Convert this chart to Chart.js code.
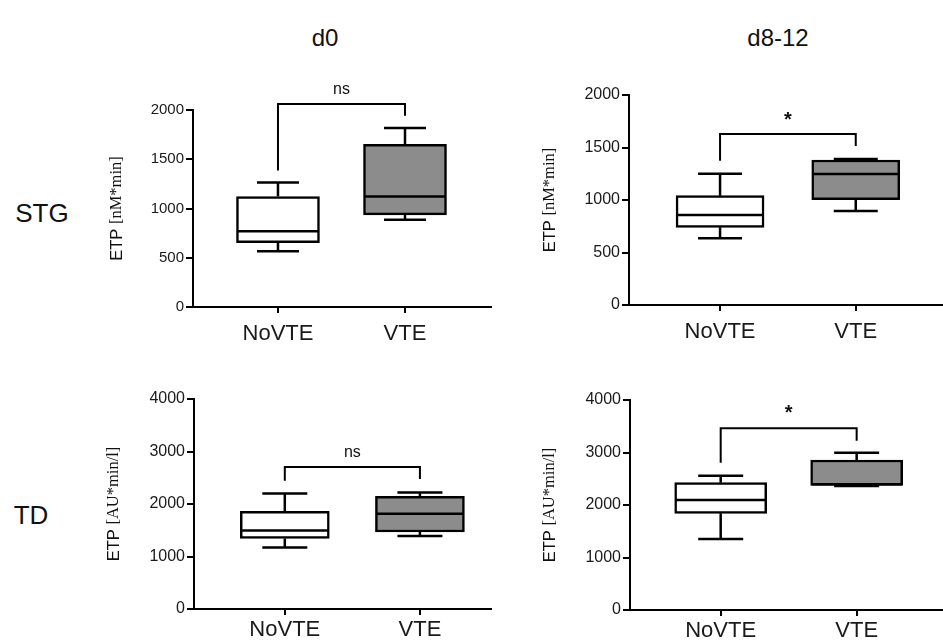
<!DOCTYPE html>
<html>
<head>
<meta charset="utf-8">
<script src="https://cdn.jsdelivr.net/npm/chart.js@4.4.0/dist/chart.umd.min.js"></script>
<style>
  body { margin: 0; background: #fff; width: 943px; height: 641px; overflow: hidden; position: relative;
         font-family: "Liberation Sans", Arial, sans-serif; color: #111; }
  .lbl { position: absolute; white-space: nowrap; transform: translate(-50%, -50%); }
  canvas { position: absolute; }
</style>
</head>
<body>
<div class="lbl" style="left:325px; top:38px; font-size:24px;">d0</div>
<div class="lbl" style="left:778px; top:38px; font-size:24px;">d8-12</div>
<div class="lbl" style="left:42px; top:213px; font-size:26px;">STG</div>
<div class="lbl" style="left:31px; top:515px; font-size:26px;">TD</div>

<canvas id="stgD0" width="420" height="290" style="left:90px; top:60px;"></canvas>
<canvas id="stgD8" width="423" height="300" style="left:520px; top:50px;"></canvas>
<canvas id="tdD0" width="420" height="271" style="left:90px; top:370px;"></canvas>
<canvas id="tdD8" width="423" height="271" style="left:520px; top:370px;"></canvas>

<script>
const categories = ['NoVTE', 'VTE'];

// five-number summaries: [min, q1, median, q3, max]
const stgD0NoVTE = [567, 652, 770, 1121, 1263];
const stgD0VTE = [885, 936, 1121, 1651, 1817];
const stgD8NoVTE = [635, 740, 857, 1041, 1250];
const stgD8VTE = [895, 1003, 1248, 1381, 1390];
const tdD0NoVTE = [1173, 1345, 1497, 1859, 2202];
const tdD0VTE = [1390, 1467, 1815, 2145, 2221];
const tdD8NoVTE = [1352, 1841, 2095, 2425, 2558];
const tdD8VTE = [2362, 2375, 2394, 2857, 2996];

// significance brackets: [top, left leg end, right leg end, label position]
const stgD0Bracket = [2062, 1385, 1942, 2206];
const stgD8Bracket = [1629, 1374, 1514, 1762];
const tdD0Bracket = [2705, 2444, 2476, 2983];
const tdD8Bracket = [3460, 2805, 3225, 3752];

const stgTicks = [0, 500, 1000, 1500, 2000];
const tdTicks = [0, 1000, 2000, 3000, 4000];

const boxFill = ['#ffffff', '#8c8c8c'];
const sans = '"Liberation Sans", Arial, sans-serif';
const serif = '"Liberation Serif", "Times New Roman", serif';

const boxPlot = {
    id: 'boxPlot',
    afterDatasetsDraw(chart, args, o) {
        const ctx = chart.ctx;
        const x = chart.scales.x, y = chart.scales.y;
        ctx.save();
        ctx.strokeStyle = '#000';
        ctx.lineWidth = 2.5;
        o.boxes.forEach((b, i) => {
            const cx = x.getPixelForValue(i);
            const half = o.boxWidth / 2, cap = o.capWidth / 2;
            ctx.beginPath();
            ctx.moveTo(cx, y.getPixelForValue(b[3]));
            ctx.lineTo(cx, y.getPixelForValue(b[4]));
            ctx.moveTo(cx, y.getPixelForValue(b[1]));
            ctx.lineTo(cx, y.getPixelForValue(b[0]));
            ctx.moveTo(cx - cap, y.getPixelForValue(b[4]));
            ctx.lineTo(cx + cap, y.getPixelForValue(b[4]));
            ctx.moveTo(cx - cap, y.getPixelForValue(b[0]));
            ctx.lineTo(cx + cap, y.getPixelForValue(b[0]));
            ctx.moveTo(cx - half + 1, y.getPixelForValue(b[2]));
            ctx.lineTo(cx + half - 1, y.getPixelForValue(b[2]));
            ctx.stroke();
        });

        // bracket
        const br = o.bracket;
        const x0 = x.getPixelForValue(0), x1 = x.getPixelForValue(1);
        ctx.lineWidth = 2;
        ctx.beginPath();
        ctx.moveTo(x0, y.getPixelForValue(br[1]));
        ctx.lineTo(x0, y.getPixelForValue(br[0]));
        ctx.lineTo(x1, y.getPixelForValue(br[0]));
        ctx.lineTo(x1, y.getPixelForValue(br[2]));
        ctx.stroke();
        ctx.fillStyle = '#111';
        ctx.font = o.markFont;
        ctx.textAlign = 'center';
        ctx.textBaseline = 'middle';
        ctx.fillText(o.mark, (x0 + x1) / 2, y.getPixelForValue(br[3]));

        // y title: sans part + serif part
        const ca = chart.chartArea;
        const fs = '16.5px ';
        ctx.translate(o.titleX, (ca.top + ca.bottom) / 2);
        ctx.rotate(-Math.PI / 2);
        ctx.textAlign = 'left';
        ctx.font = fs + sans;
        const w1 = ctx.measureText(o.title[0]).width;
        ctx.font = fs + serif;
        const w2 = ctx.measureText(o.title[1]).width;
        const start = -(w1 + w2) / 2;
        ctx.font = fs + sans;
        ctx.fillText(o.title[0], start, 0);
        ctx.font = fs + serif;
        ctx.fillText(o.title[1], start + w1, 0);
        ctx.restore();
    }
};

function makePanel(id, p) {
    const ctx = document.getElementById(id).getContext('2d');
    return new Chart(ctx, {
        type: 'bar',
        data: {
            datasets: [{
                data: p.boxes.map((b, i) => ({ x: i, y: [b[1], b[3]] })),
                backgroundColor: boxFill,
                borderColor: '#000',
                borderWidth: 2.5,
                borderSkipped: false,
                barThickness: p.boxWidth
            }]
        },
        options: {
            responsive: false,
            animation: false,
            layout: { padding: p.padding },
            plugins: {
                legend: { display: false },
                tooltip: { enabled: false },
                boxPlot: {
                    boxes: p.boxes,
                    boxWidth: p.boxWidth,
                    capWidth: p.capWidth,
                    bracket: p.bracket,
                    mark: p.mark,
                    markFont: p.mark === '*' ? 'bold 20px ' + sans : '16px ' + sans,
                    title: p.title,
                    titleX: p.titleX
                }
            },
            scales: {
                x: {
                    type: 'linear',
                    offset: false,
                    min: p.xRange[0],
                    max: p.xRange[1],
                    afterBuildTicks: s => { s.ticks = categories.map((c, i) => ({ value: i })); },
                    afterFit: s => { s.height = p.xHeight; },
                    ticks: {
                        callback: v => categories[v],
                        font: { family: sans, size: 22 },
                        color: '#1a1a1a',
                        padding: p.xPad,
                        maxRotation: 0,
                        autoSkip: false
                    },
                    grid: { display: true, offset: false, drawOnChartArea: false, drawTicks: true, tickLength: 6, color: '#000', lineWidth: 2 },
                    border: { display: true, color: '#000', width: 2 }
                },
                y: {
                    min: 0,
                    max: p.yTicks[p.yTicks.length - 1],
                    afterBuildTicks: s => { s.ticks = p.yTicks.map(v => ({ value: v })); },
                    afterFit: s => { s.width = p.yWidth; },
                    ticks: {
                        callback: v => String(v),
                        font: { family: sans, size: p.tickSize },
                        color: '#1a1a1a',
                        padding: 2
                    },
                    grid: { display: true, drawOnChartArea: false, drawTicks: true, tickLength: 7, color: '#000', lineWidth: 2 },
                    border: { display: true, color: '#000', width: 2 }
                }
            }
        },
        plugins: [boxPlot]
    });
}

makePanel('stgD0', {
    boxes: [stgD0NoVTE, stgD0VTE], boxWidth: 83, capWidth: 42,
    bracket: stgD0Bracket, mark: 'ns',
    title: ['ETP ', '[nM*min]'], titleX: 27,
    xRange: [-0.669, 1.677], yTicks: stgTicks, tickSize: 15, xPad: 8,
    yWidth: 103, xHeight: 40, padding: { top: 50, right: 19, bottom: 3, left: 0 }
});
makePanel('stgD8', {
    boxes: [stgD8NoVTE, stgD8VTE], boxWidth: 88, capWidth: 44,
    bracket: stgD8Bracket, mark: '*',
    title: ['ETP ', '[nM*min]'], titleX: 30,
    xRange: [-0.671, 1.643], yTicks: stgTicks, tickSize: 16, xPad: 8,
    yWidth: 109, xHeight: 42, padding: { top: 45, right: 0, bottom: 3, left: 0 }
});
makePanel('tdD0', {
    boxes: [tdD0NoVTE, tdD0VTE], boxWidth: 89, capWidth: 45,
    bracket: tdD0Bracket, mark: 'ns',
    title: ['ETP ', '[AU*min/l]'], titleX: 24,
    xRange: [-0.672, 1.526], yTicks: tdTicks, tickSize: 16, xPad: 2,
    yWidth: 104, xHeight: 32, padding: { top: 29, right: 19, bottom: 0, left: 0 }
});
makePanel('tdD8', {
    boxes: [tdD8NoVTE, tdD8VTE], boxWidth: 92, capWidth: 45,
    bracket: tdD8Bracket, mark: '*',
    title: ['ETP ', '[AU*min/l]'], titleX: 30,
    xRange: [-0.667, 1.635], yTicks: tdTicks, tickSize: 16, xPad: 2,
    yWidth: 110, xHeight: 31, padding: { top: 30, right: 0, bottom: 0, left: 0 }
});
</script>
</body>
</html>
